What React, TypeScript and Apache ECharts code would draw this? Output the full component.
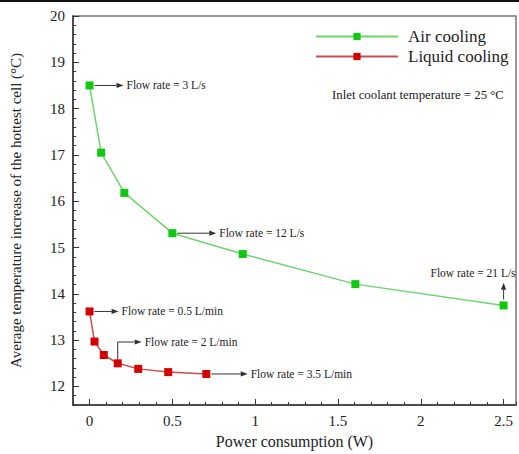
import React, { useEffect, useRef } from "react";
import * as echarts from "echarts";

const airX = [0, 0.07, 0.21, 0.5, 0.925, 1.605, 2.5];
const airY = [18.5, 17.05, 16.18, 15.31, 14.86, 14.21, 13.75];
const liquidX = [0, 0.03, 0.086, 0.17, 0.294, 0.475, 0.705];
const liquidY = [13.62, 12.97, 12.68, 12.5, 12.38, 12.31, 12.27];

const xTickLabels = [0, 0.5, 1, 1.5, 2, 2.5];
const yTickLabels = [12, 13, 14, 15, 16, 17, 18, 19, 20];

// annotation arrows: polyline points in data units; the arrow head sits on the last point
const notes = [
  { text: "Flow rate = 3 L/s", pts: [[0.03, 18.5], [0.205, 18.5]], side: "right" },
  { text: "Flow rate = 12 L/s", pts: [[0.53, 15.31], [0.765, 15.31]], side: "right" },
  { text: "Flow rate = 21 L/s", pts: [[2.5, 13.88], [2.5, 14.24]], side: "top" },
  { text: "Flow rate = 0.5 L/min", pts: [[0.03, 13.62], [0.175, 13.62]], side: "right" },
  { text: "Flow rate = 2 L/min", pts: [[0.17, 12.58], [0.17, 12.96], [0.315, 12.96]], side: "right" },
  { text: "Flow rate = 3.5 L/min", pts: [[0.735, 12.27], [0.955, 12.27]], side: "right" },
];

const SERIF = "Liberation Serif";
const INK = "#222";

export default function App() {
  const ref = useRef<HTMLDivElement>(null);
  useEffect(() => {
    if (!ref.current) return;
    const chart = echarts.init(ref.current, undefined, { renderer: "svg" });
    const renderNote = (params: any, api: any) => {
      const n = notes[params.dataIndex];
      const pts = n.pts.map((p) => api.coord(p));
      const a = pts[pts.length - 1];
      const b = pts[pts.length - 2];
      const ang = Math.atan2(a[1] - b[1], a[0] - b[0]);
      const c = Math.cos(ang);
      const s = Math.sin(ang);
      const L = 7;
      const W = 2.6;
      const base = [a[0] - L * c, a[1] - L * s];
      const left = [base[0] + W * s, base[1] - W * c];
      const right = [base[0] - W * s, base[1] + W * c];
      const textStyle: any = { text: n.text, fontSize: 11.5, fontFamily: SERIF, fill: INK };
      let tx = a[0] + 3;
      let ty = a[1];
      if (n.side === "right") {
        textStyle.align = "left";
        textStyle.verticalAlign = "middle";
      } else {
        tx = a[0] + 12;
        ty = a[1] - 4;
        textStyle.align = "right";
        textStyle.verticalAlign = "bottom";
      }
      return {
        type: "group",
        children: [
          { type: "polyline", shape: { points: [...pts.slice(0, -1), base] }, style: { stroke: "#333", lineWidth: 1, fill: null } },
          { type: "polygon", shape: { points: [a, left, right] }, style: { fill: "#333" } },
          { type: "text", x: tx, y: ty, style: textStyle },
        ],
      };
    };
    const option: any = {
      animation: false,
      backgroundColor: "#fff",
      textStyle: { fontFamily: SERIF },
      grid: { left: 72, right: 3, top: 16, bottom: 46, show: true, borderColor: "#777", borderWidth: 1.5, backgroundColor: "transparent" },
      legend: {
        orient: "vertical",
        left: 315,
        top: 28,
        padding: 0,
        itemWidth: 82,
        itemHeight: 9,
        itemGap: 3,
        textStyle: { fontSize: 17, fontFamily: SERIF, color: INK, padding: [0, 0, 0, 5] },
        data: ["Air cooling", "Liquid cooling"],
      },
      xAxis: [
        {
          type: "value",
          min: -0.1,
          max: 2.575,
          name: "Power consumption (W)",
          nameLocation: "middle",
          nameGap: 28,
          nameTextStyle: { fontSize: 16, fontFamily: SERIF, color: INK },
          axisLine: { show: true, onZero: false, lineStyle: { color: "#333", width: 1.5 } },
          axisTick: { show: true, inside: true, length: 6, customValues: xTickLabels, lineStyle: { color: "#333" } },
          axisLabel: { customValues: xTickLabels, fontSize: 15, fontFamily: SERIF, color: INK, margin: 8 },
          splitLine: { show: false },
        },
        {
          type: "value",
          min: -0.1,
          max: 2.575,
          interval: 0.1,
          position: "bottom",
          axisLine: { show: false, onZero: false },
          axisTick: { show: true, inside: true, length: 3, lineStyle: { color: "#333" } },
          axisLabel: { show: false },
          splitLine: { show: false },
        },
      ],
      yAxis: [
        {
          type: "value",
          min: 11.6,
          max: 20,
          position: "left",
          name: "Average temperature increase of the hottest cell (°C)",
          nameLocation: "middle",
          nameGap: 50,
          nameTextStyle: { fontSize: 15, fontFamily: SERIF, color: INK },
          axisLine: { show: true, onZero: false, lineStyle: { color: "#333", width: 1.5 } },
          axisTick: { show: true, inside: true, length: 6, customValues: yTickLabels, lineStyle: { color: "#333" } },
          axisLabel: { customValues: yTickLabels, fontSize: 15, fontFamily: SERIF, color: INK, margin: 8 },
          splitLine: { show: false },
        },
        {
          type: "value",
          min: 11.6,
          max: 20,
          interval: 0.2,
          position: "left",
          axisLine: { show: false, onZero: false },
          axisTick: { show: true, inside: true, length: 3, lineStyle: { color: "#333" } },
          axisLabel: { show: false },
          splitLine: { show: false },
        },
      ],
      series: [
        {
          name: "Air cooling",
          type: "line",
          data: airX.map((x, i) => [x, airY[i]]),
          symbol: "rect",
          symbolSize: 8,
          itemStyle: { color: "#10c810" },
          lineStyle: { color: "#6fd46f", width: 1.5 },
        },
        {
          name: "Liquid cooling",
          type: "line",
          data: liquidX.map((x, i) => [x, liquidY[i]]),
          symbol: "rect",
          symbolSize: 8,
          itemStyle: { color: "#d40000" },
          lineStyle: { color: "#c85050", width: 1.5 },
        },
        {
          name: "notes",
          type: "custom",
          data: notes.map((n) => n.pts[0]),
          encode: { x: 0, y: 1 },
          renderItem: renderNote,
          silent: true,
          z: 5,
        },
      ],
      graphic: [
        { type: "rect", left: 0, top: 0, shape: { width: 519, height: 2 }, style: { fill: "#111" } },
        {
          type: "text",
          left: 332,
          top: 88,
          style: { text: "Inlet coolant temperature = 25 °C", fontSize: 12.8, fontFamily: SERIF, fill: INK },
        },
      ],
    };
    chart.setOption(option);
    return () => chart.dispose();
  }, []);
  return <div ref={ref} style={{ position: "fixed", left: 0, top: 0, width: 519, height: 454 }} />;
}
